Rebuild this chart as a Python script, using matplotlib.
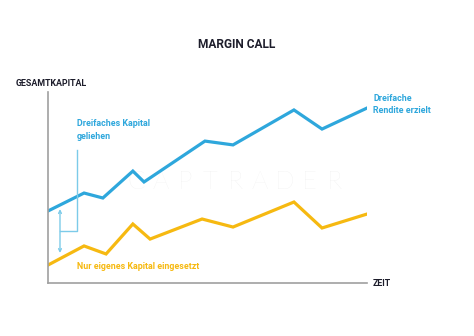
import matplotlib.pyplot as plt

# Zeitachse (beliebige Einheiten) und Gesamtkapital
zeit_dreifach = [0, 1.13, 1.72, 2.66, 3.01, 4.92, 5.8, 7.71, 8.59, 10]
kapital_dreifach = [37.7, 47.1, 44.5, 58.6, 52.9, 74.3, 72.3, 90.6, 80.6, 91.6]

zeit_eigen = [0, 1.13, 1.82, 2.66, 3.2, 4.83, 5.8, 7.71, 8.59, 10]
kapital_eigen = [9.4, 19.4, 15.2, 30.9, 23.0, 33.5, 29.3, 42.4, 28.8, 36.1]

BLAU = '#2ea7dc'
GELB = '#f6b911'
HELLBLAU = '#7ccbe9'
DUNKEL = '#1d1d2b'
SCHRIFT = ['Roboto', 'DejaVu Sans']


def grafik_margin_call():
    fig = plt.figure(figsize=(4.74, 3.36), dpi=100)
    ax = fig.add_axes([48 / 474, 53 / 336, 319 / 474, 191 / 336])

    ax.plot(zeit_dreifach, kapital_dreifach, color=BLAU, lw=2.3, solid_joinstyle='miter')
    ax.plot(zeit_eigen, kapital_eigen, color=GELB, lw=2.3, solid_joinstyle='miter')

    ax.set_xlim(0, 10)
    ax.set_ylim(0, 100)
    ax.set_xticks([])
    ax.set_yticks([])
    for lado in ['top', 'right']:
        ax.spines[lado].set_visible(False)
    for lado in ['left', 'bottom']:
        ax.spines[lado].set_color('#a0a0a0')
        ax.spines[lado].set_linewidth(1.2)

    # Wasserzeichen, mit weitem Buchstabenabstand
    for i, letra in enumerate('CAPTRADER'):
        ax.text(2.75 + i * 0.78, 53, letra, color='#ececec', fontsize=18.5, ha='center',
                va='center', family=['Lato', 'DejaVu Sans'], fontweight='light', zorder=0)

    # Klammer + Doppelpfeil
    ax.annotate('', xy=(0.376, 38.7), xytext=(0.376, 15.7),
                arrowprops=dict(arrowstyle='<->', color=HELLBLAU, lw=1, shrinkA=0, shrinkB=0,
                                mutation_scale=5))
    ax.plot([0.376, 0.91, 0.91], [27.2, 27.2, 69.6], color=HELLBLAU, lw=1, clip_on=False)

    ax.text(0.91, 80, 'Dreifaches Kapital\ngeliehen', color=BLAU, fontsize=6.4,
            fontweight='bold', family=SCHRIFT, va='center', ha='left', linespacing=1.5)
    ax.text(0.91, 8.5, 'Nur eigenes Kapital eingesetzt', color=GELB, fontsize=6.4,
            fontweight='bold', family=SCHRIFT, va='center', ha='left')
    ax.text(10.2, 93.5, 'Dreifache\nRendite erzielt', color=BLAU, fontsize=6.4,
            fontweight='bold', family=SCHRIFT, va='center', ha='left', linespacing=1.5,
            clip_on=False)

    fig.text(237 / 474, 1 - 44 / 336, 'MARGIN CALL', color=DUNKEL, fontsize=8.6,
             fontweight='bold', family=SCHRIFT, ha='center', va='center')
    fig.text(16 / 474, 1 - 83 / 336, 'GESAMTKAPITAL', color=DUNKEL, fontsize=6.4,
             fontweight='bold', family=SCHRIFT, ha='left', va='center')
    fig.text(373 / 474, 1 - 283 / 336, 'ZEIT', color=DUNKEL, fontsize=6.4,
             fontweight='bold', family=SCHRIFT, ha='left', va='center')

    fig.savefig('out.png', dpi=100)


if __name__ == "__main__":
    grafik_margin_call()
